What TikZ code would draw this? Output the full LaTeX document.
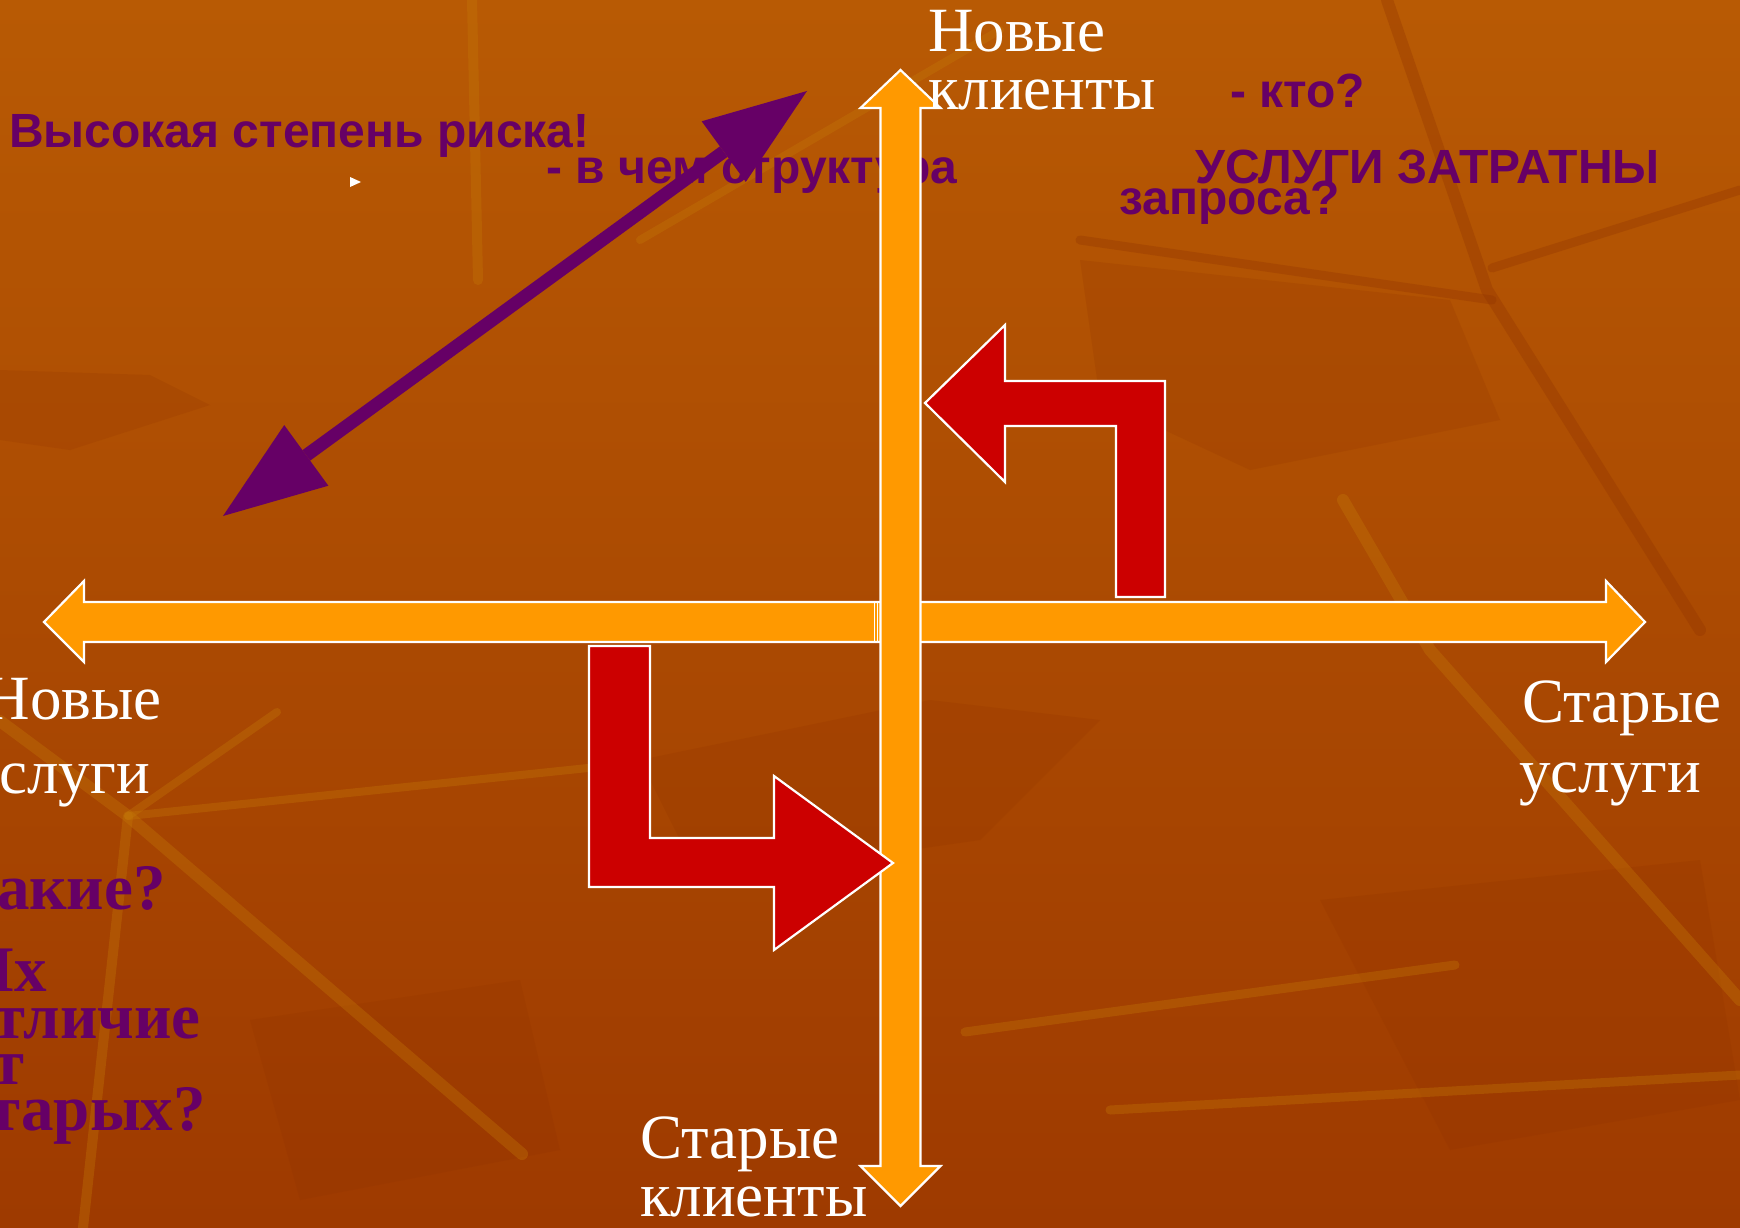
\documentclass[tikz,border=0pt]{standalone}
\usepackage{fontspec}
\setmainfont{Liberation Serif}
\newfontfamily\arialf{Liberation Sans}
\usetikzlibrary{calc}
\definecolor{purp}{HTML}{660066}
\definecolor{axisor}{HTML}{FF9900}
\definecolor{redar}{HTML}{CC0000}
\definecolor{bgtop}{HTML}{B85A04}
\definecolor{bgbot}{HTML}{9E3A00}
\definecolor{veinlt}{HTML}{C47808}
\definecolor{veindk}{HTML}{8E3000}
\begin{document}
\begin{tikzpicture}[x=1pt,y=-1pt,
  wlab/.style={font=\fontsize{63}{63}\selectfont, text=white, inner sep=0pt},
  psans/.style={font=\arialf\bfseries\fontsize{48}{48}\selectfont, text=purp, inner sep=0pt, anchor=base west},
  pserif/.style={font=\bfseries\fontsize{65}{65}\selectfont, text=purp, inner sep=0pt, anchor=base east},
  axisarrow/.style={fill=axisor, draw=white, line width=2.2pt, line join=miter},
  turnarrow/.style={fill=redar, draw=white, line width=2.2pt, line join=miter},
  vein/.style={line width=12pt, draw=veinlt, opacity=0.35, line cap=round, line join=round},
  dvein/.style={line width=12pt, draw=veindk, opacity=0.3, line cap=round, line join=round},
  dpatch/.style={fill=veindk, opacity=0.18},
]
\useasboundingbox (0,0) rectangle (1740,1228);
\clip (0,0) rectangle (1740,1228);
% background
\shade[top color=bgtop, bottom color=bgbot] (0,0) rectangle (1740,1228);
% texture
\fill[dpatch] (0,370) -- (150,375) -- (210,405) -- (70,450) -- (0,440) -- cycle;
\fill[dpatch] (640,760) -- (930,700) -- (1100,720) -- (980,840) -- (700,880) -- cycle;
\fill[dpatch] (1080,260) -- (1450,300) -- (1500,420) -- (1250,470) -- (1100,400) -- cycle;
\fill[dpatch] (250,1020) -- (520,980) -- (560,1150) -- (300,1200) -- cycle;
\fill[dpatch] (1320,900) -- (1700,860) -- (1740,1100) -- (1450,1150) -- cycle;
\draw[vein] (0,721) -- (128,816) -- (522,1154);
\draw[vein, line width=8pt] (128,816) -- (277,712);
\draw[vein, line width=8pt] (128,816) -- (588,768);
\draw[vein, line width=10pt] (128,816) -- (83,1228);
\draw[vein] (1343,500) -- (1430,650) -- (1740,1000);
\draw[vein, line width=9pt] (965,1032) -- (1455,965);
\draw[vein, line width=9pt] (1110,1110) -- (1740,1075);
\draw[vein, line width=10pt] (472,0) -- (478,280);
\draw[vein, line width=8pt] (640,240) -- (1000,30);
\draw[dvein] (1387,0) -- (1487,290) -- (1700,630);
\draw[dvein, line width=9pt] (1492,268) -- (1740,190);
\draw[dvein, line width=9pt] (1080,240) -- (1492,300);
% purple sans texts
\node[psans] (risk) at (9,148) {Высокая степень риска!};
\node[psans] (who) at (1230,108) {- кто?};
\node[psans] (struct) at (546,183) {- в чем структура};
\node[psans] (req) at (1119,214) {запроса?};
\node[psans] (cost) at (1195,183) {УСЛУГИ ЗАТРАТНЫ};
% purple serif texts (cut at left edge)
\node[pserif] (q1) at (166,909) {Какие?};
\node[pserif] (q2) at (47,991) {Их};
\node[pserif] (q3) at (201,1038) {отличие};
\node[pserif] (q4) at (25,1084) {от};
\node[pserif] (q5) at (206,1130) {старых?};
% small white marker
\fill[white] (350,177) -- (361,182) -- (350,187) -- cycle;
% horizontal axis
\draw[axisarrow] (44,622) -- (84,581) -- (84,602) -- (1606,602) -- (1606,581) -- (1645,622) -- (1606,662) -- (1606,642) -- (84,642) -- (84,662) -- cycle;
\draw[white, line width=1.3pt] (874.5,602) -- (874.5,642);
\draw[white, line width=1.3pt] (877.5,602) -- (877.5,642);
% vertical axis
\draw[axisarrow] (900.5,70) -- (940.5,108) -- (920.5,108) -- (920.5,1166) -- (940.5,1166) -- (900.5,1206) -- (860.5,1166) -- (880.5,1166) -- (880.5,108) -- (860.5,108) -- cycle;
% red turn arrows
\draw[turnarrow] (925,403) -- (1005,325) -- (1005,381) -- (1165,381) -- (1165,597) -- (1116,597) -- (1116,426) -- (1005,426) -- (1005,482) -- cycle;
\draw[turnarrow] (589,646) -- (650,646) -- (650,838) -- (774,838) -- (774,776) -- (893,863) -- (774,950) -- (774,887) -- (589,887) -- cycle;
% purple double arrow
\coordinate (ra) at (223,516);
\coordinate (rb) at (807,91);
\coordinate (rab) at ($(ra)!103pt!(rb)$);
\coordinate (rba) at ($(rb)!103pt!(ra)$);
\fill[purp] (ra) -- ($(rab)!37.5pt!90:(rb)$) -- ($(rab)!37.5pt!-90:(rb)$) -- cycle;
\fill[purp] (rb) -- ($(rba)!37.5pt!90:(ra)$) -- ($(rba)!37.5pt!-90:(ra)$) -- cycle;
\draw[purp, line width=13pt] (rab) -- (rba);
% white axis labels
\node[wlab, anchor=base west] (nc1) at (928,52) {Новые};
\node[wlab, anchor=base west] (nc2) at (928,110) {клиенты};
\node[wlab, anchor=base west] (oc1) at (640,1158) {Старые};
\node[wlab, anchor=base west] (oc2) at (640,1216) {клиенты};
\node[wlab, anchor=base east] (ns1) at (162,719) {Новые};
\node[wlab, anchor=base east] (ns2) at (150,793) {услуги};
\node[wlab, anchor=base west] (os1) at (1522,722) {Старые};
\node[wlab, anchor=base west] (os2) at (1519,792) {услуги};
\end{tikzpicture}
\end{document}
